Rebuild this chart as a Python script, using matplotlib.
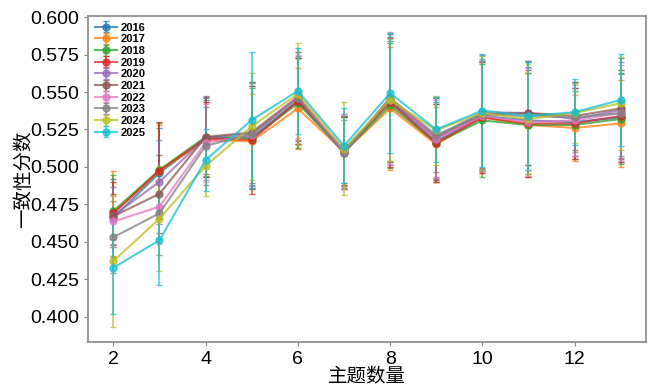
import numpy as np
import matplotlib
matplotlib.use("Agg")
import matplotlib.pyplot as plt

plt.rcParams['font.family'] = ['Liberation Sans', 'Noto Sans CJK SC', 'DejaVu Sans']

topics = [2, 3, 4, 5, 6, 7, 8, 9, 10, 11, 12, 13]
years = ["2016", "2017", "2018", "2019", "2020", "2021", "2022", "2023", "2024", "2025"]

# mean coherence per year
m2016 = [0.466, 0.496, 0.519, 0.520, 0.544, 0.511, 0.544, 0.517, 0.534, 0.531, 0.530, 0.533]
m2017 = [0.469, 0.497, 0.518, 0.517, 0.539, 0.510, 0.539, 0.515, 0.533, 0.528, 0.526, 0.529]
m2018 = [0.4705, 0.498, 0.520, 0.519, 0.5425, 0.510, 0.541, 0.516, 0.531, 0.528, 0.528, 0.532]
m2019 = [0.469, 0.4975, 0.519, 0.518, 0.544, 0.511, 0.543, 0.516, 0.533, 0.529, 0.529, 0.534]
m2020 = [0.4675, 0.490, 0.5195, 0.522, 0.546, 0.510, 0.545, 0.520, 0.5365, 0.536, 0.532, 0.538]
m2021 = [0.467, 0.482, 0.520, 0.523, 0.547, 0.509, 0.545, 0.519, 0.535, 0.536, 0.534, 0.539]
m2022 = [0.4635, 0.4734, 0.5162, 0.521, 0.547, 0.510, 0.546, 0.5185, 0.534, 0.530, 0.531, 0.536]
m2023 = [0.453, 0.469, 0.514, 0.522, 0.546, 0.509, 0.546, 0.5213, 0.535, 0.534, 0.533, 0.536]
m2024 = [0.437, 0.4654, 0.5006, 0.527, 0.5488, 0.512, 0.5447, 0.5245, 0.536, 0.532, 0.536, 0.5425]
m2025 = [0.4326, 0.451, 0.5046, 0.5313, 0.5507, 0.514, 0.5492, 0.525, 0.5376, 0.534, 0.5365, 0.5447]

# standard deviation per year
s2016 = [0.026, 0.030, 0.026, 0.034, 0.029, 0.022, 0.040, 0.026, 0.037, 0.036, 0.023, 0.030]
s2017 = [0.0285, 0.031, 0.025, 0.032, 0.027, 0.023, 0.041, 0.025, 0.037, 0.035, 0.022, 0.029]
s2018 = [0.024, 0.031, 0.026, 0.034, 0.030, 0.024, 0.042, 0.026, 0.038, 0.035, 0.023, 0.030]
s2019 = [0.021, 0.0325, 0.024, 0.036, 0.029, 0.023, 0.043, 0.026, 0.037, 0.036, 0.024, 0.031]
s2020 = [0.019, 0.028, 0.028, 0.035, 0.028, 0.025, 0.044, 0.027, 0.038, 0.035, 0.025, 0.032]
s2021 = [0.015, 0.026, 0.027, 0.034, 0.030, 0.024, 0.042, 0.027, 0.036, 0.035, 0.023, 0.034]
s2022 = [0.017, 0.025, 0.026, 0.035, 0.028, 0.025, 0.044, 0.026, 0.037, 0.036, 0.024, 0.032]
s2023 = [0.024, 0.028, 0.026, 0.034, 0.031, 0.022, 0.043, 0.025, 0.037, 0.036, 0.023, 0.029]
s2024 = [0.044, 0.035, 0.020, 0.036, 0.034, 0.031, 0.041, 0.023, 0.038, 0.037, 0.020, 0.031]
s2025 = [0.031, 0.030, 0.021, 0.0455, 0.0286, 0.025, 0.040, 0.022, 0.038, 0.036, 0.022, 0.031]

means = [m2016, m2017, m2018, m2019, m2020, m2021, m2022, m2023, m2024, m2025]
stds = [s2016, s2017, s2018, s2019, s2020, s2021, s2022, s2023, s2024, s2025]

fig = plt.figure(figsize=(6.49, 3.87), dpi=100)
ax = fig.add_axes([0.1356, 0.1163, 0.8598, 0.8424])

for i, yr in enumerate(years):
    ax.errorbar(topics, means[i], yerr=stds[i], marker='o', markersize=5, linewidth=1.5,
                elinewidth=1.2, capsize=2.5, alpha=0.75, color=f"C{i}", label=yr)

ax.set_ylim(0.383, 0.6008)
ax.set_yticks(np.arange(0.400, 0.6001, 0.025))
ax.set_yticklabels([f"{v:.3f}" for v in np.arange(0.400, 0.6001, 0.025)])
ax.set_xticks([2, 4, 6, 8, 10, 12])
ax.tick_params(labelsize=14, length=3, color='#888888')
for sp in ax.spines.values():
    sp.set_color('#888888')
    sp.set_linewidth(1.2)

ax.set_xlabel("主题数量", fontsize=14, labelpad=0)
ax.set_ylabel("一致性分数", fontsize=14, labelpad=-2)

ax.legend(loc='upper left', frameon=False, labelspacing=0.15,
          handlelength=2.0, handletextpad=0.3, borderpad=0.3, borderaxespad=0.3,
          prop={'weight': 'bold', 'size': 8})

fig.savefig("out.png", dpi=100)
